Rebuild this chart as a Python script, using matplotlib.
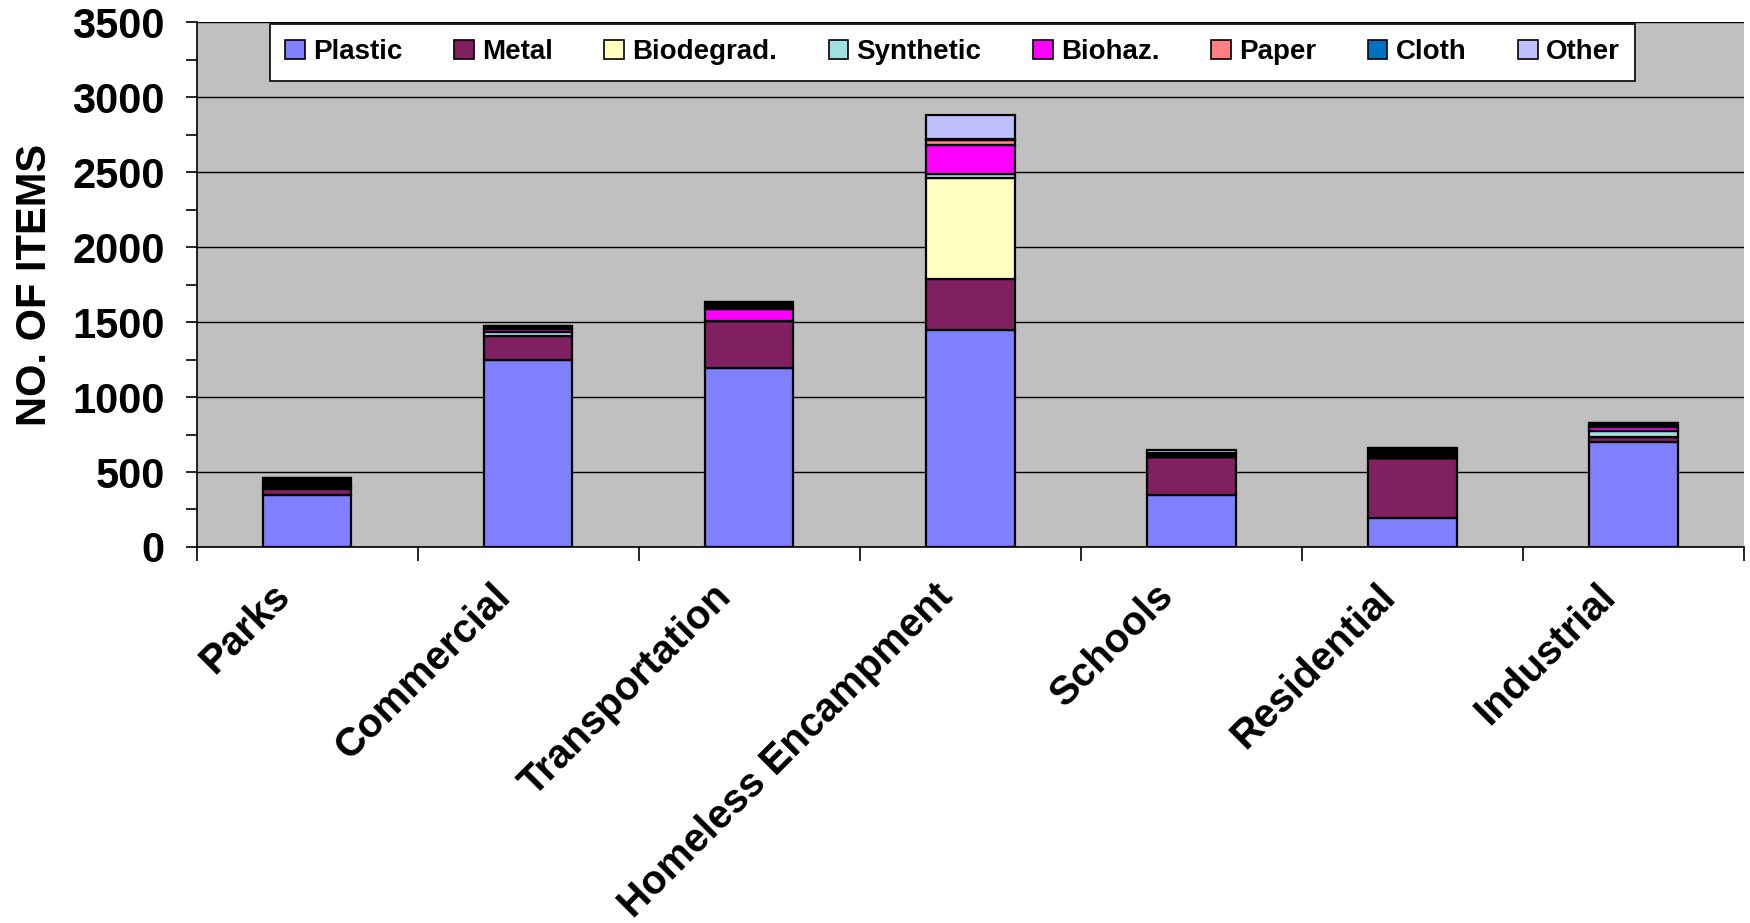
import matplotlib
matplotlib.use("Agg")
import matplotlib.pyplot as plt
from matplotlib.patches import Patch
from matplotlib.ticker import MultipleLocator, FixedLocator
from matplotlib.transforms import ScaledTranslation
import numpy as np

plt.rcParams['font.family'] = ['Liberation Sans', 'DejaVu Sans']

categories = ["Parks", "Commercial", "Transportation", "Homeless Encampment",
              "Schools", "Residential", "Industrial"]
series_names = ["Plastic", "Metal", "Biodegrad.", "Synthetic", "Biohaz.",
                "Paper", "Cloth", "Other"]

plastic    = [345, 1250, 1195, 1450, 350, 195, 700]
metal      = [40, 155, 310, 335, 250, 400, 35]
biodegrad  = [12, 5, 0, 675, 0, 0, 0]
synthetic  = [0, 25, 0, 25, 0, 0, 40]
biohaz     = [0, 20, 80, 200, 0, 0, 25]
paper      = [0, 0, 0, 30, 0, 0, 0]
cloth      = [63, 22, 50, 10, 25, 65, 30]
other      = [0, 0, 0, 160, 20, 0, 0]

y_ticks = [0, 500, 1000, 1500, 2000, 2500, 3000, 3500]

series_values = [plastic, metal, biodegrad, synthetic, biohaz, paper, cloth, other]
bar_colors = ['#8080FF', '#802060', '#FFFFC0', '#A0E0E0', '#FF00FF',
              '#FF8080', '#000000', '#C0C0FF']
legend_colors = ['#8080FF', '#802060', '#FFFFC0', '#A0E0E0', '#FF00FF',
                 '#FF8080', '#0070C0', '#C0C0FF']

fig = plt.figure(figsize=(17.5, 9.23), dpi=100)
ax = fig.add_axes([0.1123, 0.4074, 0.8843, 0.5684])
ax.set_facecolor('#C0C0C0')

x = np.arange(len(categories))
bottom = np.zeros(len(categories))
for name, vals, col in zip(series_names, series_values, bar_colors):
    v = np.array(vals, dtype=float)
    ax.bar(x, v, width=0.4, bottom=bottom, color=col, edgecolor='black',
           linewidth=1.6, zorder=3, label=name)
    bottom += v

ax.set_xlim(-0.5, len(categories) - 0.5)
ax.set_ylim(0, 3500)
ax.set_yticks(y_ticks)
ax.yaxis.set_minor_locator(MultipleLocator(250))
ax.yaxis.grid(True, which='major', color='black', linewidth=1.0, zorder=1)
ax.set_axisbelow(True)

for s in ['top', 'right']:
    ax.spines[s].set_visible(False)
for s in ['left', 'bottom']:
    ax.spines[s].set_color('black')
    ax.spines[s].set_linewidth(1.2)

ax.tick_params(axis='y', which='both', direction='out', length=8, width=1.2,
               labelsize=30, pad=15)
for lab in ax.get_yticklabels():
    lab.set_fontweight('bold')

ax.set_xticks(x)
ax.set_xticklabels(categories, rotation=45, ha='right', va='top',
                   rotation_mode='anchor', fontsize=29, fontweight='bold')
ax.tick_params(axis='x', which='major', length=0, pad=22)
shift = ScaledTranslation(-0.37, 0.01, fig.dpi_scale_trans)
for lab in ax.get_xticklabels():
    lab.set_transform(lab.get_transform() + shift)
ax.xaxis.set_minor_locator(FixedLocator(np.arange(len(categories) + 1) - 0.5))
ax.tick_params(axis='x', which='minor', direction='out', length=10, width=1.2)

ax.set_ylabel("NO. OF ITEMS", fontsize=30, fontweight='bold', labelpad=12)

handles = [Patch(facecolor=c, edgecolor='black', linewidth=1.2) for c in legend_colors]
leg = fig.legend(handles, series_names, loc='upper left',
                 bbox_to_anchor=(270 / 1750, 1 - 80 / 923, 1365 / 1750, 56 / 923),
                 mode='expand', ncol=8, frameon=True, fancybox=False,
                 framealpha=1.0, facecolor='white',
                 handlelength=0.7, handleheight=0.7, handletextpad=0.3,
                 borderpad=0.55, borderaxespad=0,
                 prop={'weight': 'bold', 'size': 20})
leg.get_frame().set_edgecolor('black')
leg.get_frame().set_linewidth(1.2)

fig.savefig("out.png", dpi=100, facecolor='white')
